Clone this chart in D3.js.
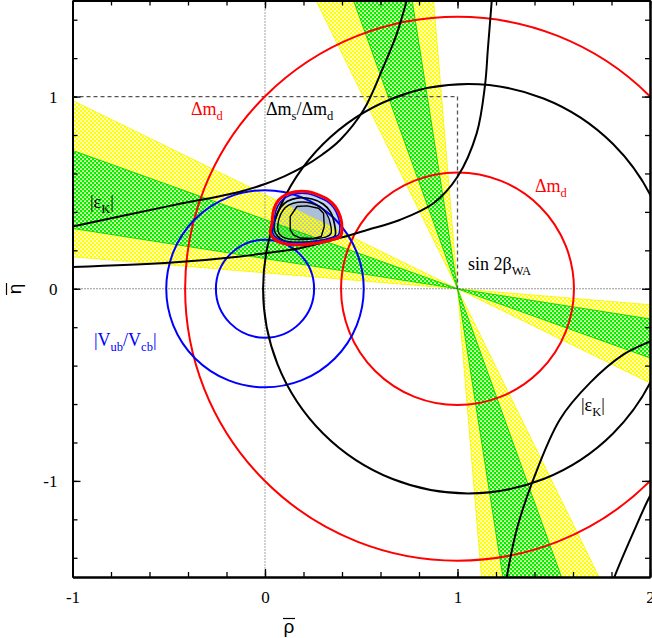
<!DOCTYPE html>
<html>
<head>
<meta charset="utf-8">
<script src="https://cdn.jsdelivr.net/npm/d3@7"></script>
<style>
  body { margin: 0; background: #fff; }
  text { font-family: "Liberation Serif", "Times New Roman", serif; }
</style>
</head>
<body>
<div id="chart"></div>
<script>
// ---- values ----
const xLabels = [-1, 0, 1, 2];
const yLabels = [-1, 0, 1];

// Delta m_d circles around (1,0), |Vub/Vcb| circles around (0,0)
const dmdCentre = [1, 0];
const dmdRadii = [0.605, 1.415];
const vubCentre = [0, 0];
const vubRadii = [0.255, 0.513];
// Delta m_s / Delta m_d
const dmsCentre = [1.055, 0];
const dmsRadii = [1.065];

// sin 2beta bands, edges given as tan(beta) of the wedge through (1,0)
const sin2bGreen = [0.157, 0.36];
const sin2bYellow = [0.083, 0.49];

// |eps_K| hyperbola branches [rho, eta]
const epsKUpper = [[-1.0, 0.324], [-0.5, 0.43], [-0.13, 0.505], [0.0, 0.545], [0.1, 0.585],
  [0.2, 0.635], [0.3, 0.7], [0.39, 0.774], [0.512, 0.93], [0.615, 1.155], [0.685, 1.328], [0.736, 1.5], [0.76, 1.6]];
const epsKLower = [[-1.0, 0.113], [-0.5, 0.135], [-0.128, 0.168], [0.0, 0.185], [0.18, 0.211],
  [0.39, 0.265], [0.53, 0.306], [0.70, 0.358], [0.875, 0.445], [1.0, 0.583], [1.1, 0.81],
  [1.143, 1.06], [1.158, 1.25], [1.178, 1.5], [1.185, 1.6]];
const epsKRight = [[1.24, -1.6], [1.256, -1.5], [1.308, -1.252], [1.394, -0.992], [1.532, -0.68],
  [1.688, -0.49], [1.861, -0.343], [2.0, -0.274], [2.05, -0.25]];
const epsKCorner = [[1.78, -1.6], [1.815, -1.5], [1.913, -1.269], [2.0, -1.079], [2.05, -1.0]];

// global fit region: contours [rho, eta]
const fitRed = [[0.028, 0.289], [0.036, 0.341], [0.045, 0.41], [0.071, 0.462], [0.105, 0.488],
  [0.157, 0.505], [0.226, 0.505], [0.278, 0.488], [0.33, 0.462], [0.365, 0.428], [0.391, 0.376],
  [0.40, 0.315], [0.391, 0.272], [0.348, 0.255], [0.261, 0.237], [0.174, 0.229], [0.105, 0.234], [0.053, 0.255]];
const fitBlue = [[0.04, 0.29], [0.047, 0.34], [0.056, 0.405], [0.08, 0.452], [0.11, 0.477],
  [0.16, 0.494], [0.225, 0.494], [0.275, 0.478], [0.323, 0.455], [0.356, 0.422], [0.381, 0.372],
  [0.389, 0.316], [0.381, 0.28], [0.343, 0.265], [0.26, 0.247], [0.175, 0.24], [0.11, 0.245], [0.062, 0.263]];
const fitOuter = [[0.048, 0.306], [0.056, 0.374], [0.082, 0.424], [0.116, 0.455], [0.166, 0.472],
  [0.244, 0.467], [0.302, 0.441], [0.34, 0.4], [0.36, 0.341], [0.364, 0.276], [0.336, 0.26],
  [0.261, 0.247], [0.174, 0.241], [0.099, 0.25], [0.065, 0.274]];
const fitMiddle = [[0.068, 0.3], [0.073, 0.365], [0.095, 0.41], [0.125, 0.436], [0.17, 0.45],
  [0.238, 0.446], [0.288, 0.424], [0.321, 0.389], [0.34, 0.338], [0.343, 0.288], [0.322, 0.271],
  [0.258, 0.26], [0.178, 0.256], [0.11, 0.262], [0.08, 0.279]];
const fitInner = [[0.131, 0.306], [0.131, 0.376], [0.166, 0.428], [0.218, 0.431], [0.278, 0.419],
  [0.304, 0.393], [0.308, 0.324], [0.292, 0.272], [0.252, 0.262], [0.183, 0.264], [0.148, 0.28]];

// apex and guide box
const apex = [1, 0];
const guideBox = [[-1, 1], [1, 1], [1, 0]];

// ---- drawing ----
const W = 652, H = 638;
const margin = {top: 0, right: 2, bottom: 61, left: 72};

const svg = d3.select('#chart').append('svg')
  .attr('width', W)
  .attr('height', H);

const x = d3.scaleLinear().domain([-1, 2]).range([margin.left + 0.5, W - margin.right]);
const y = d3.scaleLinear().domain([-1.5, 1.5]).range([H - margin.bottom, margin.top + 0.5]);

const defs = svg.append('defs');
defs.append('clipPath').attr('id', 'plot')
  .append('rect')
  .attr('x', x(-1)).attr('y', y(1.5))
  .attr('width', x(2) - x(-1)).attr('height', y(-1.5) - y(1.5));

// cross-hatch: colour with a staggered lattice of see-through holes
function hatch(id, color) {
  const p = defs.append('pattern').attr('id', id)
    .attr('patternUnits', 'userSpaceOnUse')
    .attr('width', 4).attr('height', 4);
  p.append('path')
    .attr('d', 'M0,0H4V4H0Z M0.15,0.15h1.75v1.75h-1.75Z M2.15,2.15h1.75v1.75h-1.75Z')
    .attr('fill-rule', 'evenodd')
    .attr('fill', color);
}
hatch('hYellow', '#ffff00');
hatch('hGreen', '#00f000');

const g = svg.append('g').attr('clip-path', 'url(#plot)');

// fit region fills
const closed = d3.line().x(d => x(d[0])).y(d => y(d[1])).curve(d3.curveCatmullRomClosed.alpha(0.5));
const poly = d3.line().x(d => x(d[0])).y(d => y(d[1])).curve(d3.curveLinearClosed);
g.append('path').attr('d', closed(fitBlue)).attr('fill', '#c8d8ec');
g.append('path').attr('d', closed(fitMiddle)).attr('fill', '#acbed8');

// sin2beta bands: shallow wedge eta = t(1-rho), steep wedge rho = 1 - t*eta
function bandPolys(t) {
  const far = 4;
  return [
    [apex, [apex[0] - far, far * t[0]], [apex[0] - far, far * t[1]]],
    [apex, [apex[0] + far, -far * t[0]], [apex[0] + far, -far * t[1]]],
    [apex, [apex[0] - far * t[0], far], [apex[0] - far * t[1], far]],
    [apex, [apex[0] + far * t[0], -far], [apex[0] + far * t[1], -far]]
  ];
}
const bands = [
  {t: sin2bYellow, fill: 'url(#hYellow)', edge: '#f4f400'},
  {t: sin2bGreen, fill: 'url(#hGreen)', edge: '#00c800'}
];
bands.forEach(b => {
  g.selectAll(null).data(bandPolys(b.t)).enter().append('path')
    .attr('d', poly)
    .attr('fill', b.fill)
    .attr('stroke', b.edge)
    .attr('stroke-width', 0.8);
});

// guide lines
g.append('line')
  .attr('x1', x(0)).attr('x2', x(0)).attr('y1', y(1.5)).attr('y2', y(-1.5))
  .attr('stroke', '#666').attr('stroke-width', 1.2).attr('stroke-dasharray', '1,2');
g.append('line')
  .attr('x1', x(-1)).attr('x2', x(2)).attr('y1', y(0)).attr('y2', y(0))
  .attr('stroke', '#333').attr('stroke-width', 1.2).attr('stroke-dasharray', '1,2');
g.append('path')
  .attr('d', d3.line().x(d => x(d[0])).y(d => y(d[1]))(guideBox))
  .attr('fill', 'none').attr('stroke', '#555').attr('stroke-width', 1.3)
  .attr('stroke-dasharray', '4,3');

// circles
function circles(centre, radii, color) {
  g.selectAll(null).data(radii).enter().append('ellipse')
    .attr('cx', x(centre[0])).attr('cy', y(centre[1]))
    .attr('rx', r => x(centre[0] + r) - x(centre[0]))
    .attr('ry', r => y(centre[1]) - y(centre[1] + r))
    .attr('fill', 'none').attr('stroke', color).attr('stroke-width', 2);
}
circles(dmdCentre, dmdRadii, '#ff0000');
circles(vubCentre, vubRadii, '#0000ff');
circles(dmsCentre, dmsRadii, '#000');

// eps_K curves
const smooth = d3.line().x(d => x(d[0])).y(d => y(d[1])).curve(d3.curveCatmullRom.alpha(0.5));
g.selectAll(null).data([epsKUpper, epsKLower, epsKRight, epsKCorner]).enter().append('path')
  .attr('d', smooth)
  .attr('fill', 'none').attr('stroke', '#000').attr('stroke-width', 2);

// fit contours
g.append('path').attr('d', closed(fitOuter)).attr('fill', 'none').attr('stroke', '#000').attr('stroke-width', 1.7);
g.append('path').attr('d', closed(fitMiddle)).attr('fill', 'none').attr('stroke', '#000').attr('stroke-width', 1.4);
g.append('path').attr('d', poly(fitInner)).attr('fill', 'none').attr('stroke', '#000').attr('stroke-width', 1.4)
  .attr('stroke-linejoin', 'round');
g.append('path').attr('d', closed(fitBlue)).attr('fill', 'none').attr('stroke', '#0000ff').attr('stroke-width', 1.6);
g.append('path').attr('d', closed(fitRed)).attr('fill', 'none').attr('stroke', '#ff0000').attr('stroke-width', 3);

// axes (ticks inward on all four sides)
const minorX = d3.range(-10, 21, 2).map(v => v / 10);
const minorY = d3.range(-14, 15, 2).map(v => v / 10);

function axisGroup(axis, tr) {
  const a = svg.append('g').attr('transform', tr).call(axis);
  a.select('.domain').attr('stroke-width', 2);
  a.selectAll('.tick line').attr('stroke-width', 1.3);
  return a;
}
const yBottom = y(-1.5), yTop = y(1.5), xLeft = x(-1), xRight = x(2);

axisGroup(d3.axisBottom(x).tickValues(minorX).tickSize(-5).tickSizeOuter(0).tickFormat(''), `translate(0,${yBottom})`);
axisGroup(d3.axisTop(x).tickValues(minorX).tickSize(-5).tickSizeOuter(0).tickFormat(''), `translate(0,${yTop})`);
axisGroup(d3.axisLeft(y).tickValues(minorY).tickSize(-5).tickSizeOuter(0).tickFormat(''), `translate(${xLeft},0)`);
axisGroup(d3.axisRight(y).tickValues(minorY).tickSize(-5).tickSizeOuter(0).tickFormat(''), `translate(${xRight},0)`);

const xb = axisGroup(d3.axisBottom(x).tickValues(xLabels).tickSize(-8).tickSizeOuter(0).tickPadding(14)
  .tickFormat(d => String(d)), `translate(0,${yBottom})`);
const yl = axisGroup(d3.axisLeft(y).tickValues(yLabels).tickSize(-8).tickSizeOuter(0).tickPadding(15)
  .tickFormat(d => String(d)), `translate(${xLeft},0)`);
axisGroup(d3.axisRight(y).tickValues(yLabels).tickSize(-8).tickSizeOuter(0).tickFormat(''), `translate(${xRight},0)`);
axisGroup(d3.axisTop(x).tickValues(xLabels).tickSize(-8).tickSizeOuter(0).tickFormat(''), `translate(0,${yTop})`);
[xb, yl].forEach(a => a.selectAll('text')
  .attr('font-family', '"Liberation Serif", serif').attr('font-size', 17).attr('fill', '#000'));

// axis titles (overbar drawn as a short rule)
const rhoT = svg.append('g').attr('transform', 'translate(289,633)');
rhoT.append('text').attr('text-anchor', 'middle').attr('font-size', 19)
  .style('font-family', '"Liberation Sans", sans-serif').text('\u03c1');
rhoT.append('line').attr('x1', -6).attr('x2', 6).attr('y1', -14.5).attr('y2', -14.5)
  .attr('stroke', '#000').attr('stroke-width', 1.2);
const etaT = svg.append('g').attr('transform', 'translate(21,289) rotate(-90)');
etaT.append('text').attr('text-anchor', 'middle').attr('font-size', 19)
  .style('font-family', '"Liberation Sans", sans-serif').text('\u03b7');
etaT.append('line').attr('x1', -6).attr('x2', 6).attr('y1', -14.5).attr('y2', -14.5)
  .attr('stroke', '#000').attr('stroke-width', 1.2);

// constraint labels
function label(px, py, color, parts) {
  const t = svg.append('text').attr('x', px).attr('y', py).attr('fill', color).attr('font-size', 18);
  let shift = 0;
  parts.forEach(p => {
    const sub = Array.isArray(p);
    const want = sub ? 5 : 0;
    t.append('tspan')
      .attr('dy', want - shift)
      .attr('font-size', sub ? 12.5 : 18)
      .text(sub ? p[0] : p);
    shift = want;
  });
}
label(191, 115, '#ff0000', ['\u0394m', ['d']]);
label(266, 115, '#000', ['\u0394m', ['s'], '/\u0394m', ['d']]);
label(535, 192, '#ff0000', ['\u0394m', ['d']]);
label(90, 208, '#000', ['|\u03b5', ['K'], '|']);
label(468, 270, '#000', ['sin 2\u03b2', ['WA']]);
label(94, 346, '#0000ff', ['|V', ['ub'], '/V', ['cb'], '|']);
label(581, 411, '#000', ['|\u03b5', ['K'], '|']);
</script>
</body>
</html>
